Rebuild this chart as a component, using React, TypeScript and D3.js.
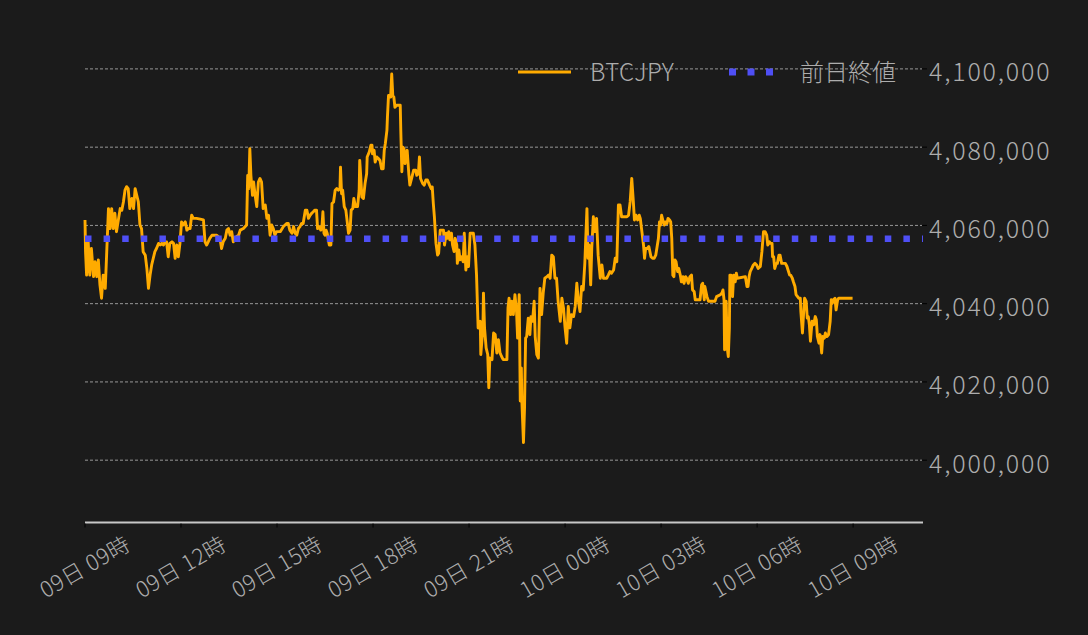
import React from "react";
import * as d3 from "d3";

// ---- data ----
const seriesName = "BTCJPY";
const refName = "前日終値";
const prevClose = 4056600;
const yTickValues = [4000000, 4020000, 4040000, 4060000, 4080000, 4100000];
const startTime = Date.UTC(2024, 0, 9, 9, 0); // 09日 09時
const domainMinutes = 1571;
const yDomain = [3984200, 4108000];

// minutes after 09日 09:00
const priceMinutes = [
  0, 1, 3, 6, 9, 12, 16, 19, 22, 25, 28, 31, 34, 38, 41, 44, 47, 50, 53, 56, 59, 63, 66, 69, 72, 75, 78, 81, 84, 88,
  91, 94, 97, 100, 103, 106, 109, 113, 116, 119, 122, 125, 128, 131, 134, 138, 141, 144, 147, 150, 153, 156, 159, 163,
  166, 169, 172, 175, 178, 181, 184, 188, 191, 194, 197, 200, 203, 209, 216, 222, 225, 228, 231, 234, 238, 247, 253,
  256, 259, 263, 266, 269, 272, 275, 278, 281, 284, 288, 291, 297, 303, 305, 307, 309, 311, 314, 316, 319, 322, 325,
  328, 331, 334, 338, 341, 344, 347, 350, 353, 356, 359,
  366, 372, 378, 381, 384, 388, 391, 394, 397, 400, 403, 406, 409, 413, 416, 419, 422, 425, 428, 431, 434, 436, 439,
  442, 444, 446, 448, 450, 452, 454, 458, 461, 463, 466, 469, 472, 475, 478, 479, 481, 483, 486, 489, 492, 494, 497,
  499, 502, 504, 507, 511, 514, 515, 517, 519, 522, 525, 528, 529, 533, 536, 538, 539, 542, 544, 547, 550, 553, 556,
  559, 561, 563, 566, 567, 569, 571, 573, 575, 577, 579, 581, 584, 591, 592, 594, 596, 598, 600, 602, 604, 607, 609,
  613, 616, 620, 622, 625, 627, 629, 633, 636, 639, 642, 646, 649, 651, 653, 655, 658, 661, 663, 666, 672, 674, 677,
  679, 682, 684, 687, 689, 692, 694, 697, 698, 701, 703, 706, 709, 711, 714, 717, 719,
  722, 728, 731, 734, 737, 741, 742, 746, 747, 749, 752, 755, 757, 759, 763, 766, 769, 772, 775, 778, 781, 784, 791,
  793, 795, 798, 800, 803, 806, 809, 811, 814, 816, 818, 819, 822, 824, 826, 828, 831, 834, 836, 839, 842, 844, 847,
  850, 853, 856, 859, 862, 866, 869, 872, 875, 878, 881, 884, 887, 891, 894, 897, 900, 903, 906, 909, 912, 916, 919,
  922, 925, 928, 931, 934, 937, 941, 943, 945, 948, 950, 953, 956, 959, 962, 966, 969, 972, 978, 981, 984, 987, 991,
  994, 997, 1000, 1003, 1006, 1016, 1019, 1022, 1025, 1028, 1030, 1033, 1036, 1039, 1041,
  1044, 1047, 1049, 1051, 1054, 1057, 1061, 1064, 1067, 1070, 1072, 1075, 1077, 1079, 1081, 1084, 1086, 1088, 1091,
  1093, 1096, 1098, 1100, 1102, 1104, 1106, 1108, 1111, 1113, 1116, 1118, 1121, 1123, 1126, 1128, 1131, 1134, 1137,
  1139, 1142, 1144, 1153, 1156, 1158, 1161, 1162, 1166, 1169, 1181, 1184, 1191, 1194, 1196, 1198, 1199, 1202, 1204,
  1206, 1208, 1209, 1211, 1214, 1216, 1219, 1221, 1223, 1238, 1241, 1243, 1245, 1247, 1250, 1253, 1256, 1259, 1262,
  1266, 1269, 1272, 1275, 1278, 1280, 1283, 1285, 1288, 1289, 1291, 1293, 1296, 1298, 1301, 1303, 1306, 1313, 1316,
  1318, 1321, 1323, 1326, 1328, 1331, 1333, 1338, 1341, 1342, 1345, 1347, 1349, 1352, 1354, 1356, 1358, 1360, 1363,
  1364, 1366, 1369, 1371, 1373, 1376, 1378, 1381, 1383, 1386, 1388, 1391, 1394, 1397, 1399, 1401, 1403, 1406, 1408,
  1411, 1413, 1439,
];

const prices = [
  4061400, 4053300, 4047300, 4055800, 4047300, 4054100, 4046900, 4050700, 4046900, 4051200, 4044800, 4041400, 4047300,
  4043900, 4054100, 4064300, 4059200, 4064300, 4059200, 4063100, 4058400, 4061800, 4064300, 4063900, 4066000, 4069000,
  4069900, 4069400, 4064300, 4066900, 4064300, 4069400, 4067700, 4066000, 4060100, 4059200, 4053300, 4052400, 4049000,
  4043900, 4047300, 4049900, 4051600, 4053300, 4054100, 4055400, 4055000, 4055400, 4055000, 4055800, 4055800, 4052000,
  4055400, 4055800, 4055400, 4051600, 4055000, 4052000, 4055400, 4060900, 4060100, 4060900, 4058800, 4059200, 4059200,
  4062600, 4061800, 4061800, 4061600, 4061400, 4055800, 4055000, 4055800, 4056700, 4057500, 4057500, 4056700, 4054100,
  4055800, 4056700, 4058800, 4059200, 4057500, 4058400, 4055800, 4056700, 4057100, 4057500, 4058800, 4059200, 4060100,
  4072800, 4069400, 4079600, 4072800, 4067700, 4071100, 4067700, 4064800, 4071100, 4072000, 4071100, 4064300, 4065200,
  4061800, 4062600, 4057500, 4060100, 4059200, 4057500, 4058400,
  4058400, 4059700, 4060500, 4060500, 4058800, 4058000, 4059700, 4058000, 4057500, 4059200, 4059700, 4060500, 4060500,
  4063900, 4063900, 4061800, 4062600, 4063100, 4063500, 4063900, 4063900, 4059200, 4059700, 4058800, 4059200, 4063500,
  4058000, 4057500, 4058800, 4058000, 4055000, 4055000, 4065600, 4066000, 4069000, 4069400, 4069000, 4069400, 4074900,
  4068100, 4069000, 4064800, 4063900, 4060500, 4058000, 4058800, 4063900, 4064300, 4066900, 4064800, 4064800, 4069000,
  4076600, 4072400, 4067300, 4066900, 4070700, 4073200, 4077500, 4078800, 4080500, 4080500, 4078300, 4079200, 4076200,
  4077500, 4077100, 4076600, 4074500, 4074500, 4079200, 4080900, 4084300, 4087700, 4093200, 4093200, 4092800, 4098700,
  4093200, 4092800, 4090200, 4090700, 4090700, 4084300, 4073700, 4080000, 4079600, 4075800, 4078300, 4079200, 4073200,
  4070300, 4072400, 4074100, 4074100, 4072800, 4073200, 4077500, 4072000, 4070700, 4070300, 4071600, 4071600, 4070300,
  4069400, 4069800, 4065600, 4062200, 4055400, 4052400, 4052900, 4058800, 4058800, 4055000, 4058000, 4056700, 4058400,
  4056300, 4058000, 4055000, 4053300, 4056700, 4055000, 4050300, 4053700, 4051200, 4052000, 4050700, 4058000, 4048600,
  4052000, 4049500,
  4058000, 4058000, 4055000, 4047300, 4033800, 4035500, 4027000, 4033800, 4042700, 4033800, 4028700, 4027000, 4018500,
  4026100, 4025700, 4032500, 4032100, 4027400, 4030800, 4027400, 4026500, 4025700, 4025700, 4038900, 4041400, 4037200,
  4040600, 4037200, 4042300, 4038000, 4031200, 4042300, 4015100, 4023600, 4015100, 4004500, 4013400, 4031200, 4031600,
  4036300, 4032100, 4036700, 4035500, 4040600, 4031600, 4027000, 4026100, 4043900, 4037200, 4042700, 4046500, 4046900,
  4047300, 4046500, 4052400, 4052000, 4046500, 4046500, 4040600, 4035500, 4041400, 4038900, 4033800, 4029900, 4039300,
  4033800, 4037200, 4036700, 4039300, 4045200, 4040600, 4038000, 4044400, 4043500, 4050300, 4064300, 4051600, 4055000,
  4044800, 4054100, 4062200, 4058400, 4061800, 4052400, 4046500, 4049900, 4046500, 4046500, 4047300, 4048200, 4047800,
  4048600, 4051600, 4050700, 4065200, 4065200, 4062200, 4062200, 4062600, 4066000, 4072000, 4066000, 4061400, 4062600,
  4061400, 4062600, 4061800,
  4058400, 4055000, 4051600, 4054100, 4054100, 4054600, 4052000, 4051600, 4051600, 4052400, 4054100, 4056700, 4060900,
  4060100, 4062600, 4060900, 4060100, 4060900, 4060500, 4061800, 4061400, 4060900, 4056700, 4047300, 4046900, 4051200,
  4050700, 4048200, 4049000, 4047300, 4045600, 4046900, 4045200, 4046900, 4046500, 4045200, 4046900, 4047300, 4043500,
  4043100, 4041000, 4041000, 4044800, 4045200, 4041000, 4044400, 4041800, 4040600, 4040600, 4041800, 4042300, 4042700,
  4043500, 4041000, 4028200, 4040600, 4028700, 4026500, 4033800, 4047300, 4047300, 4041800, 4047300, 4045600, 4047800,
  4046500, 4046900, 4044400, 4044400, 4046900, 4048200, 4049000, 4049900, 4050300, 4049900, 4049000, 4049500, 4053300,
  4058400, 4058400, 4057500, 4055000, 4055800, 4055400, 4055400, 4052000, 4052000, 4049000, 4050300, 4050300, 4052400,
  4052400, 4050300, 4050300, 4049500, 4048600, 4047300, 4047300, 4046500, 4045600, 4044400, 4042300, 4041400, 4041400,
  4038000, 4032500, 4037200, 4041400, 4040600, 4036300, 4036700, 4034600, 4030400, 4035500, 4035000, 4034600, 4036700,
  4035900, 4031600, 4029900, 4032100, 4027400, 4031600, 4031200, 4032500, 4031600, 4032100, 4035500, 4041000, 4040100,
  4041000, 4041400, 4038400, 4041000, 4041400, 4041400,
];

// ---- layout ----
const W = 1088;
const H = 635;
const LEFT = 85;
const RIGHT = 923;
const TOP = 37.6;
const BOTTOM = 522;
const BG = "#1b1b1b";
const TEXT = "#adadad";
const ORANGE = "#ffab00";
const BLUE = "#4f4ff5";
const FONT = "'Noto Sans CJK JP', sans-serif";

export default function App() {
  const x = d3
    .scaleUtc()
    .domain([new Date(startTime), new Date(startTime + domainMinutes * 60000)])
    .range([LEFT, RIGHT]);
  const y = d3.scaleLinear().domain(yDomain).range([BOTTOM, TOP]);

  const data = priceMinutes.map((m, i) => ({ t: new Date(startTime + m * 60000), v: prices[i] }));
  const line = d3
    .line<{ t: Date; v: number }>()
    .x((d) => x(d.t))
    .y((d) => y(d.v));

  const xTicks = x.ticks(d3.utcHour.every(3)!);
  const fmt = d3.utcFormat("%d日 %H時");
  const axisY = BOTTOM + 0.5;

  return (
    <div style={{ position: "fixed", left: 0, top: 0, width: W, height: H, background: BG }}>
      <svg width={W} height={H} style={{ display: "block", fontFamily: FONT }}>
        <rect x={0} y={0} width={W} height={H} fill={BG} />
        {/* grid */}
        {yTickValues.map((v) => (
          <g key={v}>
            <line x1={LEFT} x2={RIGHT - 1} y1={y(v)} y2={y(v)} stroke="#b8b8b8" strokeWidth={0.8} strokeDasharray="3,2" />
            <line x1={RIGHT - 1} x2={RIGHT + 4} y1={y(v)} y2={y(v)} stroke="#000" strokeWidth={1} />
            <text
              x={RIGHT + 6}
              y={y(v) + 1.5}
              fill={TEXT}
              fontSize={25}
              fontWeight={300}
              letterSpacing={1.8}
              dominantBaseline="central"
            >
              {d3.format(",")(v)}
            </text>
          </g>
        ))}
        {/* series */}
        <path d={line(data) ?? ""} fill="none" stroke={ORANGE} strokeWidth={2.9} strokeLinejoin="round" />
        <line x1={LEFT} x2={RIGHT} y1={y(prevClose)} y2={y(prevClose)} stroke={BLUE} strokeWidth={6.5} strokeDasharray="6.5,12.1" />
        {/* x axis */}
        <line x1={LEFT} x2={RIGHT} y1={axisY} y2={axisY} stroke="#c8c8c8" strokeWidth={2} />
        {xTicks.map((t) => (
          <g key={+t}>
            <line x1={x(t)} x2={x(t)} y1={axisY + 1} y2={axisY + 5} stroke="#000" strokeWidth={1} />
            <text
              transform={`translate(${x(t) - 1},565) rotate(-30)`}
              fill={TEXT}
              fontSize={22}
              fontWeight={300}
              letterSpacing={0.6}
              textAnchor="middle"
              dominantBaseline="central"
            >
              {fmt(t)}
            </text>
          </g>
        ))}
        {/* legend */}
        <line x1={518} x2={571} y1={72} y2={72} stroke={ORANGE} strokeWidth={2.8} />
        <text x={590} y={70} fill={TEXT} fontSize={24} fontWeight={300} letterSpacing={0.4} dominantBaseline="central">
          {seriesName}
        </text>
        <line x1={729} x2={782} y1={72} y2={72} stroke={BLUE} strokeWidth={7} strokeDasharray="7,11.5" />
        <text x={800} y={70} fill={TEXT} fontSize={24} fontWeight={300} dominantBaseline="central">
          {refName}
        </text>
      </svg>
    </div>
  );
}
